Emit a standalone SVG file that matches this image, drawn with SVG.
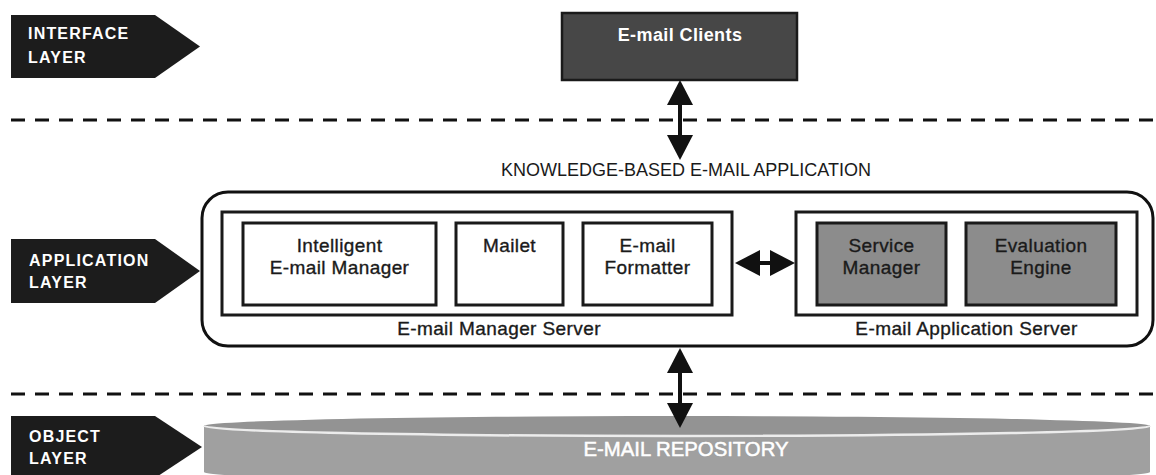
<svg xmlns="http://www.w3.org/2000/svg" width="1156" height="475" viewBox="0 0 1156 475">
  <defs>
    <style>
      text { font-family: "Liberation Sans", Arial, sans-serif; }
      .tag { fill: #1c1c1c; }
      .tag-label { fill: #ffffff; font-size: 16px; font-weight: bold; letter-spacing: 1.2px; }
      .box { fill: #ffffff; stroke: #1a1a1a; stroke-width: 3; }
      .box-dark { fill: #8c8c8c; stroke: #1a1a1a; stroke-width: 3; }
      .label { fill: #1a1a1a; stroke: #1a1a1a; stroke-width: 0.35; font-size: 19px; letter-spacing: 0.4px; text-anchor: middle; }
      .sep { stroke: #111111; stroke-width: 3; stroke-dasharray: 14 10; fill: none; }
      .link { stroke: #111111; stroke-width: 4; fill: none; marker-start: url(#head); marker-end: url(#head); }
    </style>
    <marker id="head" markerUnits="userSpaceOnUse" markerWidth="26" markerHeight="28" refX="0" refY="13" orient="auto-start-reverse" viewBox="0 0 26 26">
      <path d="M0,0 L25,13 L0,26 Z" fill="#111111"/>
    </marker>
  </defs>

  <rect width="1156" height="475" fill="#ffffff"/>

  <!-- layer separators -->
  <g id="separators">
    <line class="sep" x1="11" y1="120" x2="1156" y2="120"/>
    <line class="sep" x1="11" y1="394" x2="1156" y2="394"/>
  </g>

  <!-- layer tags -->
  <g id="tag-interface">
    <path class="tag" d="M11,15 H155 L200,46.5 L155,78 H11 Z"/>
    <text class="tag-label" x="28" y="39">INTERFACE</text>
    <text class="tag-label" x="28" y="63">LAYER</text>
  </g>
  <g id="tag-application">
    <path class="tag" d="M11,239 H155 L200,271 L155,303 H11 Z"/>
    <text class="tag-label" x="29" y="265.5">APPLICATION</text>
    <text class="tag-label" x="29" y="287.5">LAYER</text>
  </g>
  <g id="tag-object">
    <path class="tag" d="M11,416 H155 L202,447 L155,478 H11 Z"/>
    <text class="tag-label" x="29" y="442">OBJECT</text>
    <text class="tag-label" x="29" y="464">LAYER</text>
  </g>

  <!-- interface layer -->
  <g id="email-clients">
    <rect x="562" y="13" width="235" height="67" fill="#474747" stroke="#1a1a1a" stroke-width="2.5"/>
    <text x="680" y="41" fill="#ffffff" font-size="18" font-weight="bold" letter-spacing="0.4" text-anchor="middle">E-mail Clients</text>
  </g>

  <!-- application layer -->
  <g id="knowledge-based-application">
    <text x="686" y="176" fill="#1a1a1a" font-size="18" text-anchor="middle">KNOWLEDGE-BASED E-MAIL APPLICATION</text>
    <rect x="202" y="192" width="951" height="154" rx="26" ry="26" fill="#ffffff" stroke="#111111" stroke-width="3"/>
  </g>

  <g id="email-manager-server">
    <rect class="box" x="222" y="212" width="510" height="103"/>
    <text class="label" x="499" y="335">E-mail Manager Server</text>
  </g>
  <g id="intelligent-email-manager">
    <rect class="box" x="243" y="223" width="193" height="82"/>
    <text class="label" x="339.5" y="252">Intelligent</text>
    <text class="label" x="339.5" y="274">E-mail Manager</text>
  </g>
  <g id="mailet">
    <rect class="box" x="456" y="223" width="107" height="82"/>
    <text class="label" x="509.5" y="252">Mailet</text>
  </g>
  <g id="email-formatter">
    <rect class="box" x="583" y="223" width="129" height="82"/>
    <text class="label" x="647.5" y="252">E-mail</text>
    <text class="label" x="647.5" y="274">Formatter</text>
  </g>

  <g id="email-application-server">
    <rect class="box" x="796" y="212" width="341" height="103"/>
    <text class="label" x="966.5" y="335">E-mail Application Server</text>
  </g>
  <g id="service-manager">
    <rect class="box-dark" x="817" y="223" width="129" height="82"/>
    <text class="label" x="881.5" y="252">Service</text>
    <text class="label" x="881.5" y="274">Manager</text>
  </g>
  <g id="evaluation-engine">
    <rect class="box-dark" x="966" y="223" width="150" height="82"/>
    <text class="label" x="1041" y="252">Evaluation</text>
    <text class="label" x="1041" y="274">Engine</text>
  </g>

  <!-- object layer: repository cylinder -->
  <g id="email-repository">
    <path d="M204,426 L204,472 A473,10 0 0 0 1150,472 L1150,426 Z" fill="#a0a0a0"/>
    <ellipse cx="677" cy="426" rx="473" ry="10" fill="#939393"/>
    <path d="M204,426 A473,10 0 0 0 1150,426" fill="none" stroke="#ececec" stroke-width="2.5"/>
    <text x="686" y="456" fill="#ffffff" stroke="#ffffff" stroke-width="0.5" font-size="20" text-anchor="middle" textLength="205" lengthAdjust="spacingAndGlyphs">E-MAIL REPOSITORY</text>
  </g>

  <!-- connectors -->
  <g id="connectors">
    <line class="link" x1="680" y1="105" x2="680" y2="135"/>
    <line class="link" x1="760" y1="263" x2="770" y2="263"/>
    <line class="link" x1="680" y1="373" x2="680" y2="403"/>
  </g>
</svg>
